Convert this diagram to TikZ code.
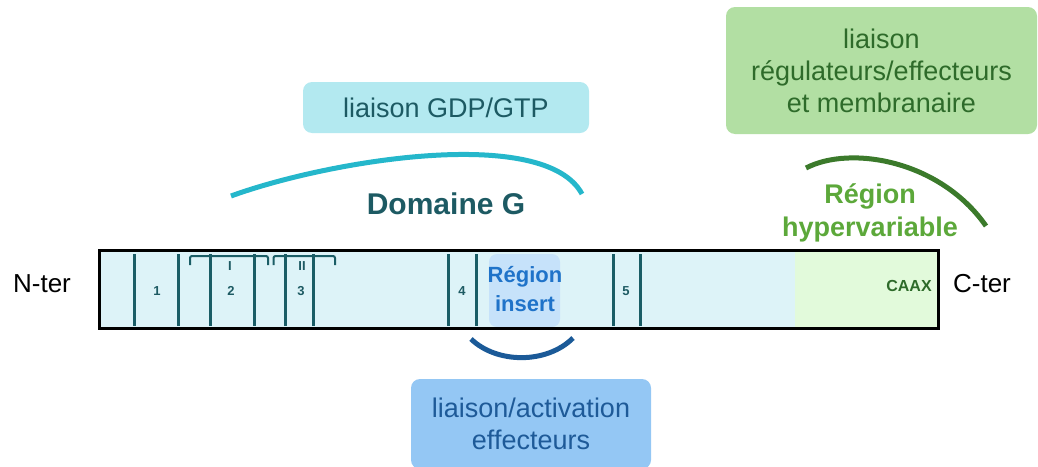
\documentclass[tikz,border=0pt]{standalone}
\usepackage{fontspec}
\setmainfont{Liberation Sans}
\definecolor{boxcyan}{HTML}{B3E9F0}
\definecolor{textteal}{HTML}{1D5A63}
\definecolor{curveteal}{HTML}{25B7CB}
\definecolor{barlight}{HTML}{DDF3F8}
\definecolor{greenlight}{HTML}{E2FADB}
\definecolor{greenbox}{HTML}{B2DFA3}
\definecolor{greentext}{HTML}{2E6B2A}
\definecolor{greenarc}{HTML}{3B7A2B}
\definecolor{hypertext}{HTML}{5CA83A}
\definecolor{insertfill}{HTML}{C6E2FA}
\definecolor{inserttext}{HTML}{1F73C9}
\definecolor{bluearc}{HTML}{1B5A98}
\definecolor{bluebox}{HTML}{94C7F4}
\definecolor{bluetext}{HTML}{1E5A98}
\definecolor{lineteal}{HTML}{1A5D66}
\tikzset{
  infobox/.style={rounded corners=9pt, inner sep=0pt, align=center, font=\fontsize{27}{32}\selectfont},
  motif/.style={draw=lineteal, line width=3pt},
  num/.style={font=\bfseries\fontsize{13}{15}\selectfont, text=textteal, inner sep=0pt},
  bracketline/.style={draw=lineteal, line width=2pt, rounded corners=2pt},
  arc/.style={line width=5pt, line cap=butt},
  plain/.style={font=\fontsize{26}{30}\selectfont, inner sep=0pt}
}
\begin{document}
\begin{tikzpicture}[x=1pt,y=-1pt]
\useasboundingbox (0,0) rectangle (1038,466);
% bar fills
\fill[barlight] (99,250) rectangle (795,328);
\fill[greenlight] (795,250) rectangle (938,328);
% insert region
\node[fill=insertfill, rounded corners=8pt, minimum width=71pt, minimum height=73pt, inner sep=0pt] (insbox) at (524.5,290.5) {};
\node[font=\bfseries\fontsize{22}{29}\selectfont, text=inserttext, align=center, inner sep=0pt] (ins) at (525,289) {Région\\insert};
% motif lines
\foreach \xx [count=\i] in {134,178,210,254,285.5,313,448.5,476,613,640}
  \draw[motif] (\xx,254) -- (\xx,326);
\node[num] (n1) at (157,291) {1};
\node[num] (n2) at (231,291) {2};
\node[num] (n3) at (301,291) {3};
\node[num] (n4) at (462,291) {4};
\node[num] (n5) at (626,291) {5};
% brackets
\draw[bracketline] (190,265) -- (190,256) -- (268,256) -- (268,265);
\draw[bracketline] (273.5,265) -- (273.5,256) -- (335,256) -- (335,265);
\node[num] (b1) at (230,266) {I};
\node[num] (b2) at (302,266) {II};
\node[font=\bfseries\fontsize{16}{18}\selectfont, text=greentext, inner sep=0pt] (caax) at (909,286) {CAAX};
% bar outline
\draw[line width=3pt] (99,250) rectangle (938,328);
\node[plain] (nter) at (42,284) {N-ter};
\node[plain] (cter) at (982,284) {C-ter};
% G domain
\node[infobox, fill=boxcyan, text=textteal, minimum width=286pt, minimum height=51pt] (gdp) at (446,107.5) {liaison GDP/GTP};
\draw[arc, curveteal] (231,196) .. controls (330,160) and (545,125) .. (582,194);
\node[font=\bfseries\fontsize{30}{32}\selectfont, text=textteal, inner sep=0pt] (domg) at (446,203.5) {Domaine G};
% hypervariable
\node[infobox, fill=greenbox, text=greentext, minimum width=311pt, minimum height=127pt] (memb) at (881.5,70.5) {liaison\\régulateurs/effecteurs\\et membranaire};
\draw[arc, greenarc] (806,168) .. controls (850,145) and (940,160) .. (986,226);
\node[font=\bfseries\fontsize{27}{33}\selectfont, text=hypertext, align=center, inner sep=0pt] (hyper) at (870,213) {Région\\hypervariable};
% effectors
\draw[arc, bluearc] (471,339) .. controls (497,364) and (547,364) .. (573,338);
\node[infobox, fill=bluebox, text=bluetext, minimum width=240pt, minimum height=90pt] (eff) at (531,424) {liaison/activation\\effecteurs};
\end{tikzpicture}
\end{document}
